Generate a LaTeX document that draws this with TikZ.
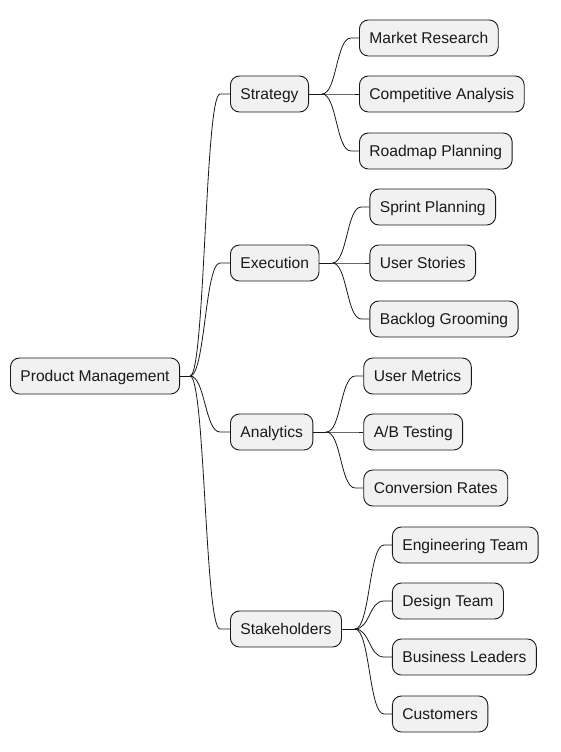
\documentclass[tikz,border=0pt]{standalone}
\usepackage{fontspec}
\setmainfont{Liberation Sans}
\usetikzlibrary{positioning,calc}
\definecolor{boxfill}{HTML}{F1F1F1}
\definecolor{boxline}{HTML}{181818}
\tikzset{
	topic/.style={draw=boxline, fill=boxfill, rounded corners=9pt, line width=0.9pt,
		minimum height=36pt, inner xsep=10pt, inner ysep=0pt, text height=13pt, text depth=1.5pt,
		font=\fontsize{15.6}{18}\selectfont, text=black!90, anchor=west},
	branch/.style={draw=boxline, line width=0.8pt},
}
\begin{document}
\begin{tikzpicture}[x=1pt, y=-1pt]
	\useasboundingbox (0,0) rectangle (560,752);
	% root and main branches
	\node[topic] (pm) at (10,376) {Product Management};
	\node[topic] (strat) at (230,94) {Strategy};
	\node[topic] (exec) at (230,263) {Execution};
	\node[topic] (anal) at (230,432) {Analytics};
	\node[topic] (stake) at (230,629) {Stakeholders};
	% leaves
	\node[topic, right=50pt of strat, yshift=56pt] (market) {Market Research};
	\node[topic, right=50pt of strat] (compet) {Competitive Analysis};
	\node[topic, right=50pt of strat, yshift=-57pt] (roadmap) {Roadmap Planning};
	\node[topic, right=50pt of exec, yshift=56pt] (sprint) {Sprint Planning};
	\node[topic, right=50pt of exec] (stories) {User Stories};
	\node[topic, right=50pt of exec, yshift=-56pt] (backlog) {Backlog Grooming};
	\node[topic, right=50pt of anal, yshift=56pt] (metrics) {User Metrics};
	\node[topic, right=50pt of anal] (abtest) {A/B Testing};
	\node[topic, right=50pt of anal, yshift=-56pt] (conv) {Conversion Rates};
	\node[topic, right=50pt of stake, yshift=84pt] (eng) {Engineering Team};
	\node[topic, right=50pt of stake, yshift=28pt] (design) {Design Team};
	\node[topic, right=50pt of stake, yshift=-28pt] (biz) {Business Leaders};
	\node[topic, right=50pt of stake, yshift=-85pt] (cust) {Customers};
	% connectors
	\draw[branch] (pm.east) -- ++(10,0) coordinate (pmfork);
	\foreach \c in {strat,exec,anal,stake}
		\draw[branch] (pmfork) .. controls +(15,0) and +(-15,0) .. ([xshift=-10pt]\c.west) -- (\c.west);
	\foreach \p/\kids in {strat/{market,compet,roadmap}, exec/{sprint,stories,backlog}, anal/{metrics,abtest,conv}, stake/{eng,design,biz,cust}} {
		\draw[branch] (\p.east) -- ++(13,0) coordinate (\p fork);
		\foreach \c in \kids
			\draw[branch] (\p fork) .. controls +(15,0) and +(-15,0) .. ([xshift=-8pt]\c.west) -- (\c.west);
	}
\end{tikzpicture}
\end{document}
